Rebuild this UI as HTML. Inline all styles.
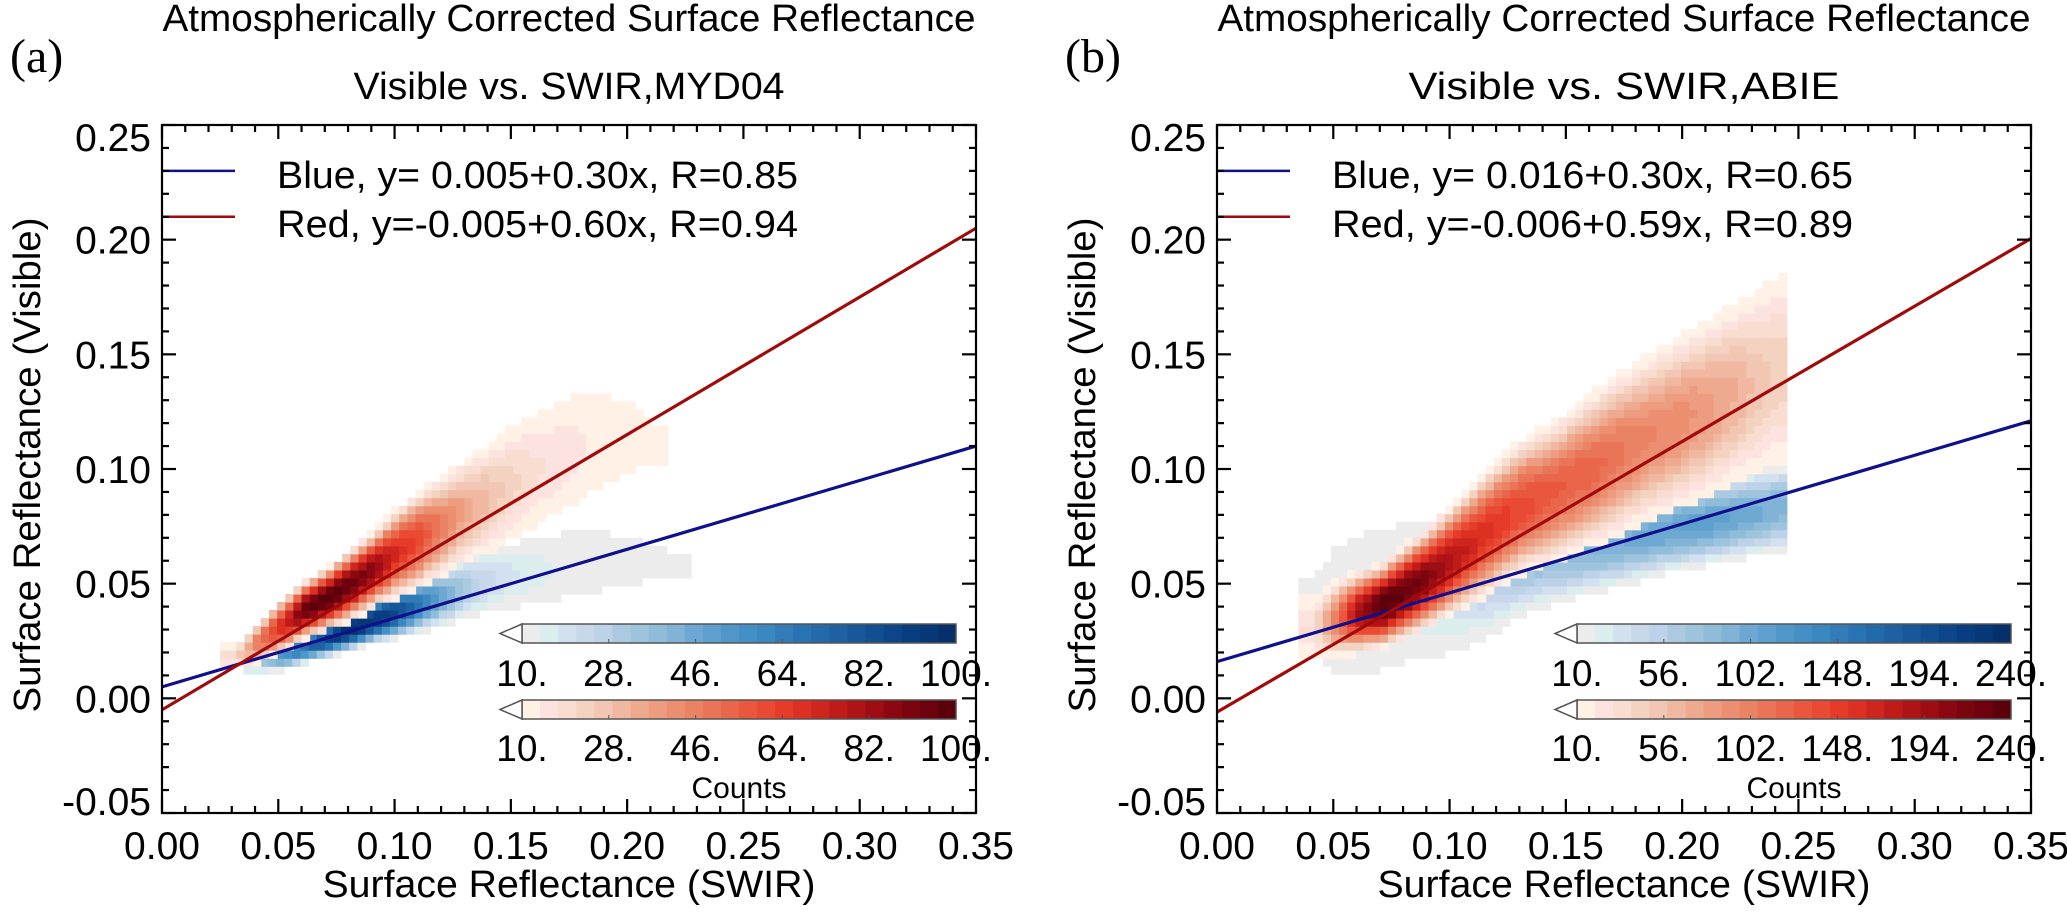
<!DOCTYPE html>
<html><head><meta charset="utf-8"><style>
html,body{margin:0;padding:0;background:#fff;}
svg{display:block;font-family:"Liberation Sans",Arial,sans-serif;}
</style></head><body>
<svg id="fig" xmlns="http://www.w3.org/2000/svg" width="2067" height="914" viewBox="0 0 2067 914"></svg>
<script>
// ---------- data ----------
const xTicks = [0.00,0.05,0.10,0.15,0.20,0.25,0.30,0.35];
const xTickLabels = ["0.00","0.05","0.10","0.15","0.20","0.25","0.30","0.35"];
const yTicks = [-0.05,0.00,0.05,0.10,0.15,0.20,0.25];
const yTickLabels = ["-0.05","0.00","0.05","0.10","0.15","0.20","0.25"];
const panelTitles = [["Atmospherically Corrected Surface Reflectance","Visible vs. SWIR,MYD04"],["Atmospherically Corrected Surface Reflectance","Visible vs. SWIR,ABIE"]];
const panelLetters = ["(a)","(b)"];
const legendBlue = ["Blue, y= 0.005+0.30x, R=0.85","Blue, y= 0.016+0.30x, R=0.65"];
const legendRed = ["Red, y=-0.005+0.60x, R=0.94","Red, y=-0.006+0.59x, R=0.89"];
const fitIntercepts = [[0.005,-0.005],[0.016,-0.006]];
const fitSlopes = [[0.30,0.60],[0.30,0.59]];
const cbLabelsA = ["10.","28.","46.","64.","82.","100."];
const cbLabelsB = ["10.","56.","102.","148.","194.","240."];
const cbMax = [100,240];
// heatmap column profiles: x centre, lower y, upper y, peak count
const aRedX  =[0.03,0.04,0.05,0.06,0.07,0.08,0.09,0.10,0.11,0.12,0.13,0.14,0.15,0.16,0.17,0.18,0.19,0.20,0.21];
const aRedLo =[0.015,0.018,0.022,0.028,0.032,0.036,0.042,0.046,0.050,0.056,0.062,0.066,0.072,0.078,0.084,0.090,0.096,0.100,0.105];
const aRedHi =[0.022,0.032,0.042,0.050,0.056,0.064,0.072,0.082,0.090,0.096,0.104,0.110,0.118,0.122,0.128,0.132,0.130,0.126,0.118];
const aRedPk =[20,50,70,95,100,95,85,70,60,45,35,28,22,18,16,14,12,11,10];
const aBluX  =[0.04,0.05,0.06,0.07,0.08,0.09,0.10,0.11,0.12,0.13,0.14,0.15,0.16,0.17,0.18,0.19,0.20,0.21,0.22];
const aBluLo =[0.013,0.014,0.017,0.020,0.023,0.026,0.028,0.031,0.034,0.037,0.040,0.042,0.044,0.046,0.048,0.050,0.052,0.054,0.056];
const aBluHi =[0.018,0.024,0.028,0.033,0.038,0.043,0.048,0.052,0.056,0.060,0.064,0.066,0.068,0.070,0.070,0.070,0.068,0.064,0.062];
const aBluPk =[30,55,70,90,100,95,85,65,45,30,22,18,15,13,12,11,10,10,10];
const bRedX  =[0.04,0.05,0.06,0.07,0.08,0.09,0.10,0.11,0.12,0.13,0.14,0.15,0.16,0.17,0.18,0.19,0.20,0.21,0.22,0.23,0.24];
const bRedLo =[0.020,0.020,0.022,0.024,0.028,0.033,0.038,0.044,0.050,0.056,0.060,0.064,0.068,0.072,0.078,0.082,0.086,0.090,0.096,0.100,0.104];
const bRedHi =[0.042,0.050,0.054,0.058,0.066,0.074,0.084,0.094,0.104,0.112,0.118,0.124,0.132,0.140,0.146,0.152,0.158,0.164,0.170,0.176,0.182];
const bRedPk =[30,110,200,240,230,210,185,165,150,140,130,125,120,110,100,95,90,80,70,55,45];
const bBluX  =[0.04,0.05,0.06,0.07,0.08,0.09,0.10,0.11,0.12,0.13,0.14,0.15,0.16,0.17,0.18,0.19,0.20,0.21,0.22,0.23,0.24];
const bBluLo =[0.020,0.012,0.012,0.015,0.018,0.020,0.022,0.026,0.032,0.038,0.042,0.045,0.048,0.050,0.053,0.056,0.058,0.060,0.062,0.064,0.066];
const bBluHi =[0.050,0.065,0.070,0.072,0.074,0.076,0.078,0.080,0.080,0.080,0.082,0.082,0.084,0.086,0.088,0.090,0.092,0.094,0.096,0.098,0.100];
const bBluPk =[12,15,20,25,30,35,40,50,60,70,80,85,90,95,100,105,110,110,105,100,90];

const BLUES=["#ececec","#dcedee","#d3e0ef","#c8d8ea","#bcd2e8","#abcae1","#9dc4dc","#8fbcd9","#80b3d6","#6ca8d1","#5d9fcd","#4f97c9","#448fc5","#3b87bf","#327db9","#2a73b2","#236aaa","#1d61a2","#17589a","#114f91","#0c4688","#083e7f","#063777","#05306b"];
const REDS=["#fff1e6","#fde3df","#f8ddd0","#f3d3c0","#f1c6b2","#f0b8a1","#eeaa8f","#ed9c7f","#ec8f70","#ea8264","#ea7458","#e9664b","#e8573e","#e84a33","#e63b29","#dc3023","#cf251f","#bf1b19","#ae1316","#9d0d14","#8c0811","#7a050f","#6b020d","#5c000b"];

// ---------- geometry ----------
const NS="http://www.w3.org/2000/svg";
const svg=document.getElementById('fig');
function mk(tag,attrs,parent){const e=document.createElementNS(NS,tag);for(const k in attrs)e.setAttribute(k,attrs[k]);(parent||svg).appendChild(e);return e;}
const X0=[162,1217], W=814, Y0=125, H=688;
const XMIN=0,XMAX=0.35,YMIN=-0.05,YMAX=0.25;

function drawPanel(p){
  const g=mk('g',{});
  
  
  const L=X0[p];
  const sx=v=>L+(v-XMIN)/(XMAX-XMIN)*W;
  const sy=v=>Y0+H-(v-YMIN)/(YMAX-YMIN)*H;
  const cx=L+W/2;
  const t1=mk('text',{x:cx,y:31,'font-size':38,'text-anchor':'middle',textLength:813,lengthAdjust:'spacingAndGlyphs'},g);t1.textContent=panelTitles[p][0];
  
  const t2=mk('text',{x:cx,y:99,'font-size':38,'text-anchor':'middle',textLength:431,lengthAdjust:'spacingAndGlyphs'},g);t2.textContent=panelTitles[p][1];
  
  const lt=mk('text',{x:L-152,y:72,'font-size':48,'font-family':'Liberation Serif, serif'},g);lt.textContent=panelLetters[p];
  
  const clip=mk('clipPath',{id:'clip'+p},g);mk('rect',{x:L,y:Y0,width:W,height:H},clip);
  const hm=mk('g',{'clip-path':'url(#clip'+p+')'},g);
  
  const series = p===0 ? [[aBluX,aBluLo,aBluHi,aBluPk,BLUES],[aRedX,aRedLo,aRedHi,aRedPk,REDS]]
                       : [[bBluX,bBluLo,bBluHi,bBluPk,BLUES],[bRedX,bRedLo,bRedHi,bRedPk,REDS]];
  const B=0.0035;
  series.forEach(s=>{
    const [xs,lo,hi,pk,pal]=s;
    const sg=mk('g',{},hm);
    
    
    for(let x=xs[0]-0.005;x<xs[xs.length-1]+0.005;x+=B){
      let i=Math.min(xs.length-2,Math.max(0,Math.floor((x-xs[0])/(xs[1]-xs[0]))));
      let f=Math.max(0,Math.min(1,(x-xs[i])/(xs[i+1]-xs[i])));
      const l=lo[i]+(lo[i+1]-lo[i])*f, h=hi[i]+(hi[i+1]-hi[i])*f, pv=pk[i]+(pk[i+1]-pk[i])*f;
      const mid=(l+h)/2, half=(h-l)/2+0.002;
      for(let y=Math.floor((l-0.002)/B)*B;y<=h+0.002;y+=B){
        const t=(y+B/2-mid)/half; if(Math.abs(t)>1)continue;
        const c=10+(pv-10)*Math.pow(1-t*t,1.5);
        let k=Math.floor((c-10)/(cbMax[p]-10)*24);k=Math.max(0,Math.min(23,k));
        mk('rect',{x:sx(x).toFixed(1),y:sy(y+B).toFixed(1),width:(sx(x+B)-sx(x)+0.6).toFixed(1),height:(sy(y)-sy(y+B)+0.6).toFixed(1),fill:pal[k]},sg);
      }
    }
  });
  const cols=['#10108c','#a00a0a'];
  [0,1].forEach(j=>{
    const ln=mk('line',{x1:sx(0),y1:sy(fitIntercepts[p][j]),x2:sx(0.35),y2:sy(fitIntercepts[p][j]+fitSlopes[p][j]*0.35),stroke:cols[j],'stroke-width':3.2,'clip-path':'url(#clip'+p+')'},g);
    
    
  });
  [[0.23,legendBlue[p],cols[0],188],[0.21,legendRed[p],cols[1],237]].forEach((e,j)=>{
    const lg=mk('g',{},g);
    
    mk('line',{x1:L,x2:L+73,y1:sy(e[0]),y2:sy(e[0]),stroke:e[2],'stroke-width':2.5},lg);
    const tx=mk('text',{x:L+115,y:e[3],'font-size':38,textLength:521,lengthAdjust:'spacingAndGlyphs'},lg);tx.textContent=e[1];
  });
  const cbL=L+360, cbR=L+794, labs=p===0?cbLabelsA:cbLabelsB;
  [[624,BLUES,686],[700,REDS,761]].forEach((c,j)=>{
    const cg=mk('g',{},g);
    
    const w=(cbR-cbL)/24;
    c[1].forEach((col,k)=>mk('rect',{x:cbL+k*w,y:c[0],width:w+0.5,height:19,fill:col},cg));
    mk('rect',{x:cbL,y:c[0],width:cbR-cbL,height:19,fill:'none',stroke:'#555','stroke-width':1.5},cg);
    mk('polygon',{points:`${cbL},${c[0]} ${cbL-22},${c[0]+9.5} ${cbL},${c[0]+19}`,fill:'#fff',stroke:'#555','stroke-width':1.5},cg);
    labs.forEach((s,k)=>{
      const xx=cbL+k*(cbR-cbL)/5;
      mk('line',{x1:xx,x2:xx,y1:c[0]+19,y2:c[0]+15,stroke:'#555','stroke-width':1},cg);
      const tx=mk('text',{x:xx,y:c[2],'font-size':37,'text-anchor':'middle'},cg);tx.textContent=s;
    });
  });
  const ct=mk('text',{x:(cbL+cbR)/2,y:798,'font-size':30,'text-anchor':'middle'},g);ct.textContent='Counts';
  
  const ax=mk('g',{stroke:'#000','stroke-width':2.2},g);
  
  mk('rect',{x:L,y:Y0,width:W,height:H,fill:'none'},ax);
  for(let i=0;i<=35;i++){const v=i*0.01,len=i%5===0?14:7,xx=sx(v);
    mk('line',{x1:xx,x2:xx,y1:Y0+H,y2:Y0+H-len},ax);mk('line',{x1:xx,x2:xx,y1:Y0,y2:Y0+len},ax);}
  for(let i=-5;i<=25;i++){const v=i*0.01,len=i%5===0?14:7,yy=sy(v);
    mk('line',{x1:L,x2:L+len,y1:yy,y2:yy},ax);mk('line',{x1:L+W,x2:L+W-len,y1:yy,y2:yy},ax);}
  xTicks.forEach((v,i)=>{const t=mk('text',{x:sx(v),y:859,'font-size':39,'text-anchor':'middle'},g);t.textContent=xTickLabels[i];
    });
  yTicks.forEach((v,i)=>{const yy=Math.min(Math.max(sy(v),Y0+12),Y0+H-12);const t=mk('text',{x:L-11,y:yy+14,'font-size':39,'text-anchor':'end'},g);t.textContent=yTickLabels[i];
    });
  const xt=mk('text',{x:cx,y:897,'font-size':38,'text-anchor':'middle',textLength:493,lengthAdjust:'spacingAndGlyphs'},g);xt.textContent='Surface Reflectance (SWIR)';
  
  const yx=L-136;
  const yt=mk('text',{x:yx,y:465,'font-size':38,'text-anchor':'middle',transform:`rotate(-90 ${yx} 465) translate(0 14)`,textLength:495,lengthAdjust:'spacingAndGlyphs'},g);yt.textContent='Surface Reflectance (Visible)';
  
}
drawPanel(0);drawPanel(1);
</script>
</body></html>
